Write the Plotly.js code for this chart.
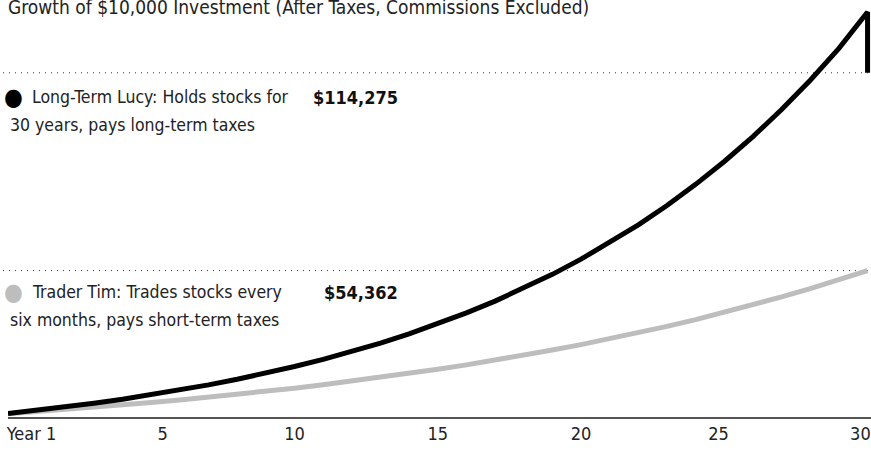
<!DOCTYPE html>
<html>
<head>
<meta charset="utf-8">
<script src="https://cdn.plot.ly/plotly-3.0.1.min.js"></script>
<style>
  html, body { margin: 0; padding: 0; background: #fff; }
  #chart { width: 871px; height: 452px; }
  #chart text { font-stretch: condensed !important; }
</style>
</head>
<body>
<div id="chart"></div>
<script>
// Values (dollars, end of each year)
const years = [0, 1, 2, 3, 4, 5, 6, 7, 8, 9, 10, 11, 12, 13, 14, 15,
  16, 17, 18, 19, 20, 21, 22, 23, 24, 25, 26, 27, 28, 29, 30];

const lucyValues = [11060, 12010, 13050, 14170, 15400, 16720, 18170, 19730,
  21430, 23280, 25290, 27470, 29830, 32410, 35200, 38230, 41530, 45110,
  49000, 53220, 57810, 62800, 68210, 74090, 80480, 87410, 94950, 103140,
  112030, 121680, 132700];

const timValues = [11000, 11600, 12240, 12910, 13610, 14360, 15140, 15970,
  16850, 17770, 18740, 19770, 20850, 21990, 23190, 24460, 25800, 27210,
  28700, 30280, 31930, 33680, 35520, 37470, 39520, 41680, 43960, 46370,
  48900, 51580, 54362];

const lucyFinal = 114275;
const timFinal = 54362;

const tickVals = [0.82, 5.4, 10, 15, 20, 24.8, 29.75];
const tickText = ["Year 1", "5", "10", "15", "20", "25", "30"];

const font = "'DejaVu Sans Condensed', 'DejaVu Sans', sans-serif";

const lucy = {
  x: years.concat([30]),
  y: lucyValues.concat([lucyFinal]),
  mode: 'lines',
  line: { color: '#000000', width: 5 },
  hoverinfo: 'skip'
};

const tim = {
  x: years,
  y: timValues,
  mode: 'lines',
  line: { color: '#bdbdbd', width: 5 },
  hoverinfo: 'skip'
};

// plot area is 871-8 px wide, 417 px tall
const W = 863, H = 417, L = 8;
const px = (x) => (x - L) / W;
const py = (y) => 1 - y / H;

const annotations = [
  { text: 'Growth of $10,000 Investment (After Taxes, Commissions Excluded)',
    x: px(6), y: 1, xanchor: 'left', yanchor: 'middle', yshift: -7,
    font: { size: 19, color: '#222' } },
  { text: '●', x: px(13), y: py(97), xanchor: 'center', yanchor: 'middle',
    font: { size: 24, color: '#000' } },
  { text: 'Long-Term Lucy: Holds stocks for', x: px(30), y: py(97),
    xanchor: 'left', yanchor: 'middle' },
  { text: '30 years, pays long-term taxes', x: px(8), y: py(125),
    xanchor: 'left', yanchor: 'middle' },
  { text: '<b>$' + lucyFinal.toLocaleString('en-US') + '</b>', x: px(400), y: py(97),
    xanchor: 'right', yanchor: 'middle', font: { size: 18, color: '#111' } },
  { text: '●', x: px(13), y: py(292), xanchor: 'center', yanchor: 'middle',
    font: { size: 24, color: '#bdbdbd' } },
  { text: 'Trader Tim: Trades stocks every', x: px(30), y: py(292),
    xanchor: 'left', yanchor: 'middle' },
  { text: 'six months, pays short-term taxes', x: px(8), y: py(320),
    xanchor: 'left', yanchor: 'middle' },
  { text: '<b>$' + timFinal.toLocaleString('en-US') + '</b>', x: px(400), y: py(292),
    xanchor: 'right', yanchor: 'middle', font: { size: 18, color: '#111' } }
].map(a => Object.assign({ xref: 'paper', yref: 'paper', showarrow: false,
  font: { size: 17.5, color: '#222' } }, a));

const shapes = [lucyFinal, timFinal].map(v => ({
  type: 'line', xref: 'paper', yref: 'y',
  x0: px(3), x1: px(868), y0: v, y1: v,
  line: { color: '#333', width: 1, dash: '1px,5px' },
  layer: 'below'
}));

const layout = {
  width: 871,
  height: 452,
  margin: { l: L, r: 0, t: 0, b: 35 },
  paper_bgcolor: '#fff',
  plot_bgcolor: '#fff',
  showlegend: false,
  font: { family: font, size: 18, color: '#222' },
  xaxis: {
    range: [0, 30.12],
    showgrid: false,
    zeroline: false,
    showline: true,
    linecolor: '#555',
    linewidth: 1.5,
    tickmode: 'array',
    tickvals: tickVals,
    ticktext: tickText,
    ticks: '',
    ticklabeloverflow: 'allow',
    tickfont: { size: 18, color: '#222' }
  },
  yaxis: {
    range: [10000, 136335],
    showgrid: false,
    zeroline: false,
    showline: false,
    showticklabels: false,
    ticks: ''
  },
  shapes: shapes,
  annotations: annotations
};

Plotly.newPlot('chart', [tim, lucy], layout, { displayModeBar: false, staticPlot: true });
</script>
</body>
</html>
